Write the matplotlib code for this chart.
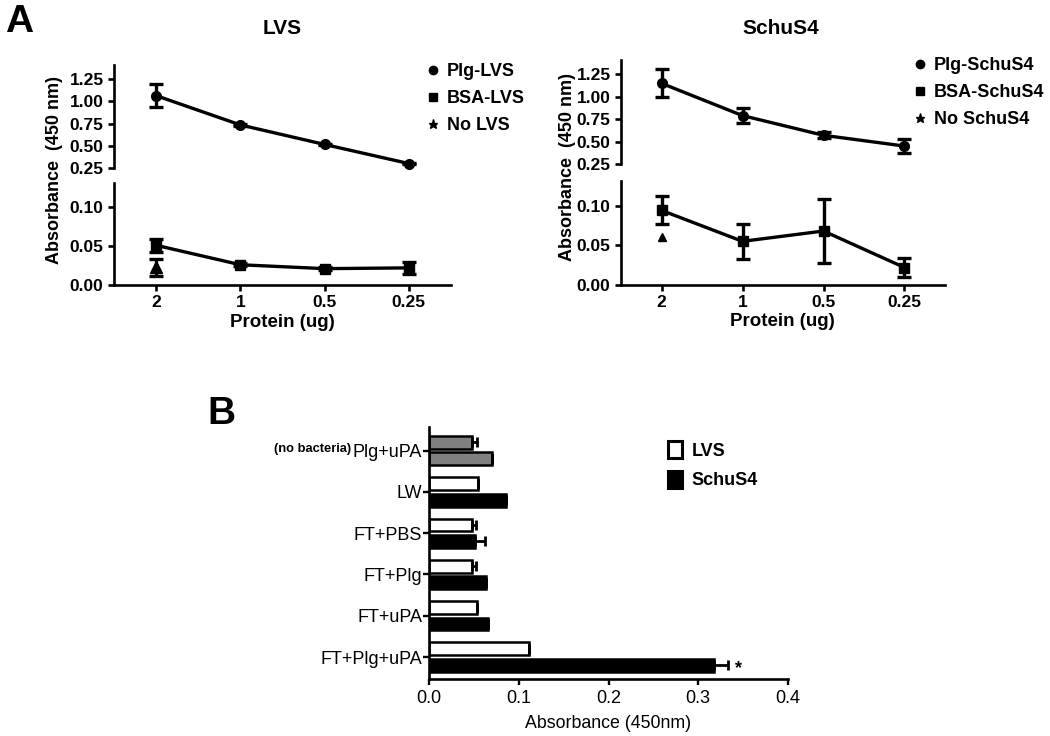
import numpy as np
import matplotlib
matplotlib.use('Agg')
import matplotlib.pyplot as plt
from matplotlib.lines import Line2D
from matplotlib.patches import Patch

plt.rcParams['font.family'] = ['Liberation Sans', 'DejaVu Sans']

# panel A data
protein = ['2', '1', '0.5', '0.25']

lvs_plg = [1.065, 0.735, 0.515, 0.30]
lvs_plg_err = [0.13, 0.01, 0.01, 0.01]
lvs_bsa = [0.051, 0.026, 0.021, 0.022]
lvs_bsa_err = [0.0085, 0.002, 0.002, 0.008]
lvs_none = [0.023]
lvs_none_err = [0.011]

schu_plg = [1.15, 0.79, 0.57, 0.45]
schu_plg_err = [0.155, 0.085, 0.035, 0.08]
schu_bsa = [0.094, 0.055, 0.068, 0.022]
schu_bsa_err = [0.0175, 0.022, 0.040, 0.012]
schu_none = [0.061]

# panel B data
groups = ['Plg+uPA', 'LW', 'FT+PBS', 'FT+Plg', 'FT+uPA', 'FT+Plg+uPA']
b_lvs = [0.048, 0.055, 0.048, 0.048, 0.053, 0.111]
b_lvs_err = [0.005, 0.0, 0.004, 0.004, 0.0, 0.0]
b_schu = [0.070, 0.086, 0.051, 0.064, 0.066, 0.317]
b_schu_err = [0.0, 0.0, 0.011, 0.0, 0.0, 0.016]

W, H = 1050, 736
fig = plt.figure(figsize=(10.5, 7.36), dpi=100)


def px(x0, y0, x1, y1):
    return [x0 / W, 1 - y1 / H, (x1 - x0) / W, (y1 - y0) / H]


LW_ = 1.9
tick_kw = dict(width=LW_, length=4, labelsize=12.5, direction='out')


def panel_a(top_box, bot_box, plg, plg_err, bsa, bsa_err, none, none_err,
            title, tx, ty, ylx, yly, xlx, xly, leg_xy, names):
    xs = np.arange(len(protein))
    at = fig.add_axes(px(*top_box))
    ab = fig.add_axes(px(*bot_box))
    for a in (at, ab):
        a.set_xlim(-0.5, 3.5)
        for s in ('top', 'right'):
            a.spines[s].set_visible(False)
        a.spines['left'].set_linewidth(LW_)
        a.spines['bottom'].set_linewidth(LW_)
        a.tick_params(**tick_kw)
    at.spines['bottom'].set_visible(False)
    at.set_xticks([])
    at.set_ylim(0.25, 1.41)
    at.set_yticks([0.25, 0.5, 0.75, 1.0, 1.25])
    at.set_yticklabels(['0.25', '0.50', '0.75', '1.00', '1.25'], fontweight='bold')
    ab.set_ylim(0, 0.131)
    ab.set_yticks([0, 0.05, 0.10])
    ab.set_yticklabels(['0.00', '0.05', '0.10'], fontweight='bold')
    ab.set_xticks(xs)
    ab.set_xticklabels(protein, fontweight='bold')
    ab.tick_params(axis='x', pad=3)

    ekw = dict(color='black', lw=2.4, elinewidth=2.4, capsize=5, capthick=2.4,
               clip_on=False)
    at.errorbar(xs, plg, yerr=plg_err, marker='o', ms=7, **ekw)
    ab.errorbar(xs, bsa, yerr=bsa_err, marker='s', ms=7, **ekw)
    if none_err is None:
        ab.plot(xs[:len(none)], none, ls='none', marker='^', ms=5.5, color='black')
    else:
        ab.errorbar(xs[:len(none)], none, yerr=none_err, ls='none', marker='^',
                    ms=8, **{k: v for k, v in ekw.items() if k != 'lw'})

    fig.text(tx / W, 1 - ty / H, title, ha='center', va='center',
             fontsize=15, fontweight='bold')
    fig.text(ylx / W, 1 - yly / H, 'Absorbance  (450 nm)', rotation=90,
             ha='center', va='center', fontsize=13, fontweight='bold')
    fig.text(xlx / W, 1 - xly / H, 'Protein (ug)', ha='center', va='center',
             fontsize=13.5, fontweight='bold')
    handles = [Line2D([], [], ls='none', marker=m, ms=s, color='black')
               for m, s in (('o', 6), ('s', 6), ('*', 6.5))]
    fig.legend(handles, names, loc='upper left',
               bbox_to_anchor=(leg_xy[0] / W, 1 - leg_xy[1] / H),
               frameon=False, prop=dict(size=13, weight='bold'),
               handlelength=0.8, handletextpad=0.35, borderpad=0,
               borderaxespad=0, labelspacing=0.55)


panel_a((114, 65, 451, 168), (114, 183, 451, 285),
        lvs_plg, lvs_plg_err, lvs_bsa, lvs_bsa_err, lvs_none, lvs_none_err,
        'LVS', 282, 28, 55, 170, 282, 323, (426, 63),
        ['Plg-LVS', 'BSA-LVS', 'No LVS'])
panel_a((621, 60, 945, 164), (621, 181, 945, 285),
        schu_plg, schu_plg_err, schu_bsa, schu_bsa_err, schu_none, None,
        'SchuS4', 781, 28, 568, 167, 782, 322, (913, 57),
        ['Plg-SchuS4', 'BSA-SchuS4', 'No SchuS4'])

# panel B
axb = fig.add_axes(px(429, 427, 788, 679))
yb = np.arange(len(groups))
h = 0.31
lvs_col = ['#808080'] + ['white'] * (len(groups) - 1)
schu_col = ['#808080'] + ['black'] * (len(groups) - 1)
axb.barh(yb - 0.2, b_lvs, height=h, color=lvs_col, edgecolor='black', lw=1.8,
         xerr=[np.zeros(len(groups)), b_lvs_err],
         error_kw=dict(lw=2, capsize=3.5, capthick=2))
axb.barh(yb + 0.2, b_schu, height=h, color=schu_col, edgecolor='black', lw=1.8,
         xerr=[np.zeros(len(groups)), b_schu_err],
         error_kw=dict(lw=2, capsize=3.5, capthick=2))
axb.set_ylim(len(groups) - 1 + 0.53, -0.57)
axb.set_xlim(0, 0.4)
axb.set_xticks([0, 0.1, 0.2, 0.3, 0.4])
axb.set_xticklabels(['0.0', '0.1', '0.2', '0.3', '0.4'])
axb.set_yticks(yb)
axb.set_yticklabels(groups)
for s in ('top', 'right'):
    axb.spines[s].set_visible(False)
for s in ('left', 'bottom'):
    axb.spines[s].set_linewidth(1.9)
axb.tick_params(width=1.7, length=4, labelsize=13, pad=1)
axb.tick_params(axis='x', pad=4)
axb.set_xlabel('Absorbance (450nm)', fontsize=12.8, labelpad=6)
i = len(groups) - 1
axb.annotate('*', (b_schu[i] + b_schu_err[i], yb[i] + 0.2), xytext=(5, -2),
             textcoords='offset points', ha='left', va='center', fontsize=13,
             fontweight='bold')
fig.text(351 / W, 1 - 449 / H, '(no bacteria)', ha='right', va='center',
         fontsize=9.3, fontweight='bold')
fig.legend([Patch(fc='white', ec='black', lw=2.2), Patch(fc='black', ec='black', lw=2.2)],
           ['LVS', 'SchuS4'], loc='upper left',
           bbox_to_anchor=(668 / W, 1 - 441 / H), frameon=False,
           prop=dict(size=13, weight='bold'), handlelength=0.8,
           handleheight=1.1, handletextpad=0.5, borderpad=0, borderaxespad=0,
           labelspacing=0.6)

# panel letters
fig.text(5 / W, 1 - 22 / H, 'A', fontsize=28, fontweight='bold', va='center')
fig.text(207 / W, 1 - 414 / H, 'B', fontsize=28, fontweight='bold', va='center')

fig.savefig('out.png', dpi=100)
